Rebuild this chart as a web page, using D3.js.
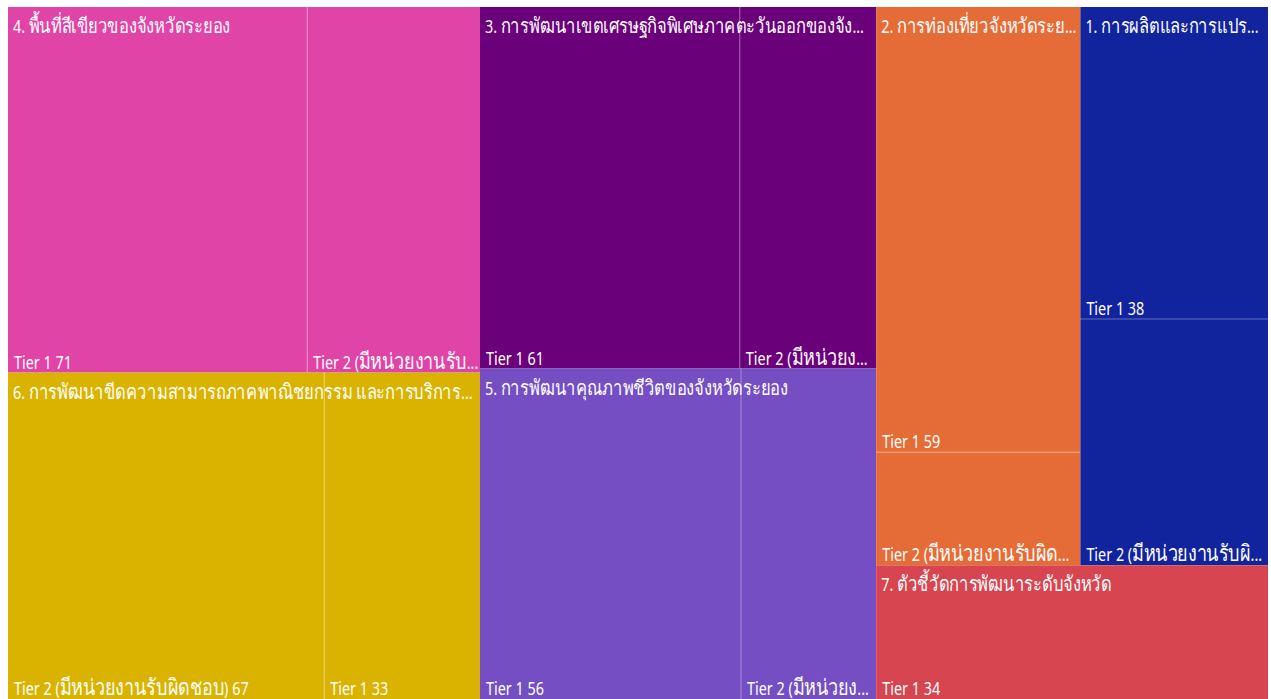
<!DOCTYPE html>
<html>
<head>
<meta charset="utf-8">
<script src="https://cdn.jsdelivr.net/npm/d3@7"></script>
<style>
  body { margin: 0; background: #fff; }
  text { font-family: "Segoe UI", "Noto Sans", "Open Sans", sans-serif; fill: #fff; }
</style>
</head>
<body>
<div id="chart"></div>
<script>
var width = 1271, height = 699;
var offsetX = 8, offsetY = 7;

// categories and values
var groups = [
  "1. การผลิตและการแปรรูปสินค้าเกษตร",
  "2. การท่องเที่ยวจังหวัดระยอง",
  "3. การพัฒนาเขตเศรษฐกิจพิเศษภาคตะวันออกของจังหวัดระยอง",
  "4. พื้นที่สีเขียวของจังหวัดระยอง",
  "5. การพัฒนาคุณภาพชีวิตของจังหวัดระยอง",
  "6. การพัฒนาขีดความสามารถภาคพาณิชยกรรม และการบริการสู่การเป็นเมืองน่าอยู่",
  "7. ตัวชี้วัดการพัฒนาระดับจังหวัด"
];
var tiers = ["Tier 1", "Tier 2 (มีหน่วยงานรับผิดชอบ)"];
var tier1Values = [38, 59, 61, 71, 56, 33, 34];
var tier2Values = [30, 15, 32, 41, 29, 67, null];

var palette = ["#12239E", "#E66C37", "#6B007B", "#E044A7", "#744EC2", "#D9B300", "#D64550"];
var color = d3.scaleOrdinal().domain(groups).range(palette);

var tree = {
  name: "root",
  children: groups.map(function(g, i) {
    var kids = [{ name: tiers[0], value: tier1Values[i] }];
    if (tier2Values[i] != null) kids.push({ name: tiers[1], value: tier2Values[i] });
    return { name: g, children: kids };
  })
};

var root = d3.hierarchy(tree)
  .sum(function(d) { return d.value || 0; })
  .sort(function(a, b) { return b.value - a.value; });

// top level rows the way Power BI breaks them: 2, 2, 2, 1
var rowSizes = [2, 2, 2, 1];

function tile(parent, x0, y0, x1, y1) {
  if (parent.depth > 0) return d3.treemapSquarify.ratio(1)(parent, x0, y0, x1, y1);
  var kids = parent.children, i = 0, left = parent.value;
  rowSizes.forEach(function(n) {
    var row = { children: kids.slice(i, i + n) };
    row.value = d3.sum(row.children, function(d) { return d.value; });
    i += n;
    var dx = x1 - x0, dy = y1 - y0;
    if (dx >= dy) {
      var nx = x0 + dx * row.value / left;
      d3.treemapSlice(row, x0, y0, nx, y1);
      x0 = nx;
    } else {
      var ny = y0 + dy * row.value / left;
      d3.treemapDice(row, x0, y0, x1, ny);
      y0 = ny;
    }
    left -= row.value;
  });
}

d3.treemap()
  .tile(tile)
  .size([1260, 692])(root);

var svg = d3.select("#chart").append("svg")
  .attr("width", width)
  .attr("height", height)
  .append("g")
  .attr("transform", "translate(" + offsetX + "," + offsetY + ")");

var sx = 0.8; // the labels look narrow in the picture

var group = svg.selectAll(".group")
  .data(root.children)
  .enter().append("g")
    .attr("class", "group");

group.selectAll(".cell")
  .data(function(d) { return d.children; })
  .enter().append("rect")
    .attr("class", "cell")
    .attr("x", function(d) { return d.x0; })
    .attr("y", function(d) { return d.y0; })
    .attr("width", function(d) { return d.x1 - d.x0; })
    .attr("height", function(d) { return d.y1 - d.y0; })
    .attr("fill", function(d) { return color(d.parent.data.name); });

// thin separators between tiers inside a group
group.selectAll(".sep")
  .data(function(d) {
    return d.children.filter(function(c) { return c.x0 > d.x0 + 0.5 || c.y0 > d.y0 + 0.5; });
  })
  .enter().append("line")
    .attr("class", "sep")
    .attr("x1", function(d) { return d.x0; })
    .attr("y1", function(d) { return d.y0; })
    .attr("x2", function(d) { return d.x0 > d.parent.x0 + 0.5 ? d.x0 : d.x1; })
    .attr("y2", function(d) { return d.x0 > d.parent.x0 + 0.5 ? d.y1 : d.y0; })
    .attr("stroke", "rgba(255,255,255,0.35)")
    .attr("stroke-width", 1);

// thai runs are drawn a bit larger, like the original font
function setRuns(t, str, thaiSize) {
  t.text(null);
  str.split(/([\u0E00-\u0E7F]+)/).forEach(function(part) {
    if (!part) return;
    var s = t.append("tspan").text(part);
    if (/[\u0E00-\u0E7F]/.test(part)) s.style("font-size", thaiSize);
  });
}

function label(sel, str, maxW, thaiSize) {
  sel.each(function() {
    var t = d3.select(this);
    setRuns(t, str, thaiSize);
    if (this.getComputedTextLength() * sx <= maxW) return;
    var n = str.length;
    while (n > 0) {
      n--;
      setRuns(t, str.slice(0, n).replace(/\s+$/, "") + "...", thaiSize);
      if (this.getComputedTextLength() * sx <= maxW) break;
    }
  });
}

group.append("text")
  .attr("transform", function(d) { return "translate(" + (d.x0 + 5) + "," + (d.y0 + 26) + ") scale(" + sx + ",1)"; })
  .style("font-size", "18px")
  .each(function(d) { label(d3.select(this), d.data.name, d.x1 - d.x0 - 8, "1.15em"); });

group.selectAll(".leaf")
  .data(function(d) { return d.children; })
  .enter().append("text")
    .attr("class", "leaf")
    .attr("transform", function(d) { return "translate(" + (d.x0 + 6) + "," + (d.y1 - 4) + ") scale(" + sx + ",1)"; })
    .style("font-size", "18px")
    .each(function(d) { label(d3.select(this), d.data.name + " " + d.value, d.x1 - d.x0 - 6, "1.25em"); });
</script>
</body>
</html>
